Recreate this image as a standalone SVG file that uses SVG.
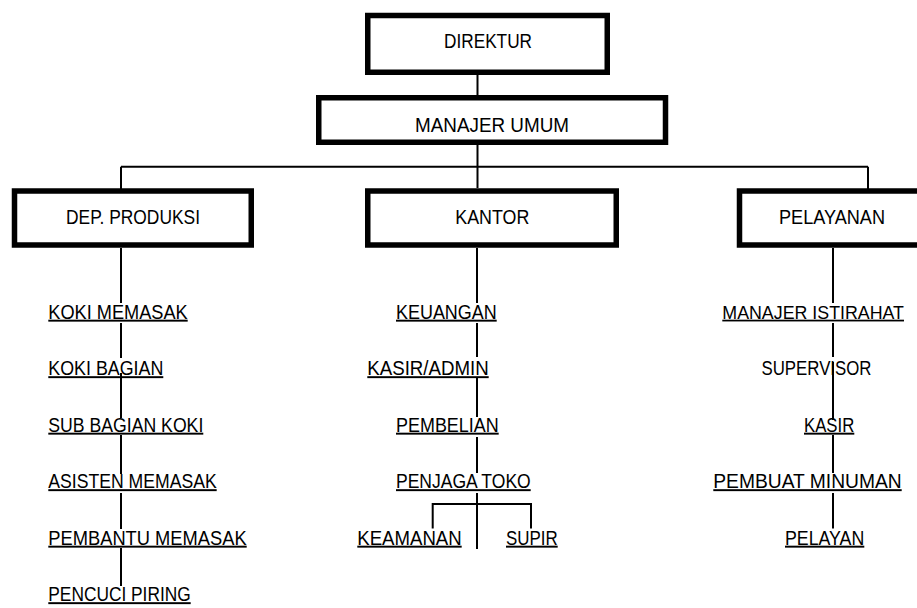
<svg xmlns="http://www.w3.org/2000/svg" width="917" height="608" viewBox="0 0 917 608">
<style>
  .box { fill: #fff; stroke: #000; stroke-width: 5.5; }
  .con { stroke: #000; stroke-width: 2; fill: none; }
  text { font-family: "Liberation Sans", Arial, sans-serif; font-size: 19.5px; fill: #000; }
  .c { text-anchor: middle; }
  .u { text-decoration: underline; }
</style>
<rect width="917" height="608" fill="#fff"/>
<g id="connectors">
  <line class="con" x1="477.5" y1="75" x2="477.5" y2="95"/>
  <line class="con" x1="477.5" y1="145" x2="477.5" y2="188"/>
  <line class="con" x1="121" y1="166.7" x2="868" y2="166.7"/>
  <line class="con" x1="121" y1="166.7" x2="121" y2="189"/>
  <line class="con" x1="868" y1="166.7" x2="868" y2="189"/>
  <!-- left column -->
  <line class="con" x1="121" y1="248" x2="121" y2="303"/>
  <line class="con" x1="121" y1="323" x2="121" y2="358"/>
  <line class="con" x1="121" y1="373" x2="121" y2="418"/>
  <line class="con" x1="121" y1="435" x2="121" y2="474"/>
  <line class="con" x1="121" y1="493" x2="121" y2="529"/>
  <line class="con" x1="121" y1="548" x2="121" y2="586"/>
  <!-- center column -->
  <line class="con" x1="477" y1="248" x2="477" y2="303"/>
  <line class="con" x1="477" y1="323" x2="477" y2="357"/>
  <line class="con" x1="477" y1="377" x2="477" y2="417"/>
  <line class="con" x1="477" y1="437" x2="477" y2="473"/>
  <line class="con" x1="477" y1="493" x2="477" y2="549"/>
  <polyline class="con" points="432.7,528.5 432.7,504 531,504 531,528.5"/>
  <!-- right column -->
  <line class="con" x1="833" y1="248" x2="833" y2="303"/>
  <line class="con" x1="833" y1="323" x2="833" y2="357"/>
  <line class="con" x1="833" y1="362" x2="833" y2="420"/>
  <line class="con" x1="833" y1="435" x2="833" y2="473"/>
  <line class="con" x1="833" y1="493" x2="833" y2="528.5"/>
</g>
<g id="direktur">
  <rect class="box" x="367.75" y="15.5" width="239.5" height="56.75"/>
  <text class="c" x="488" y="48.3" textLength="88" lengthAdjust="spacingAndGlyphs">DIREKTUR</text>
</g>
<g id="manajer-umum">
  <rect class="box" x="318.75" y="97.75" width="346.75" height="44.5"/>
  <text class="c" x="492" y="131.7" textLength="154" lengthAdjust="spacingAndGlyphs">MANAJER UMUM</text>
</g>
<g id="dep-produksi">
  <rect class="box" x="14.5" y="191" width="236.75" height="54"/>
  <text class="c" x="133" y="224.3" textLength="134" lengthAdjust="spacingAndGlyphs">DEP. PRODUKSI</text>
</g>
<g id="kantor">
  <rect class="box" x="367.75" y="191" width="248.5" height="54"/>
  <text class="c" x="492.3" y="224.3" textLength="74" lengthAdjust="spacingAndGlyphs">KANTOR</text>
</g>
<g id="pelayanan">
  <rect class="box" x="739.5" y="191" width="200" height="54"/>
  <text class="c" x="832" y="224.3" textLength="106" lengthAdjust="spacingAndGlyphs">PELAYANAN</text>
</g>
<g id="koki-memasak"><text class="u" x="48.3" y="318.7" textLength="139.4" lengthAdjust="spacingAndGlyphs">KOKI MEMASAK</text></g>
<g id="koki-bagian"><text class="u" x="48.3" y="375.2" textLength="115" lengthAdjust="spacingAndGlyphs">KOKI BAGIAN</text></g>
<g id="sub-bagian-koki"><text class="u" x="48.3" y="431.7" textLength="155" lengthAdjust="spacingAndGlyphs">SUB BAGIAN KOKI</text></g>
<g id="asisten-memasak"><text class="u" x="48.3" y="488.2" textLength="168.4" lengthAdjust="spacingAndGlyphs">ASISTEN MEMASAK</text></g>
<g id="pembantu-memasak"><text class="u" x="48.3" y="544.7" textLength="198.4" lengthAdjust="spacingAndGlyphs">PEMBANTU MEMASAK</text></g>
<g id="pencuci-piring"><text class="u" x="48.3" y="601.2" textLength="142.4" lengthAdjust="spacingAndGlyphs">PENCUCI PIRING</text></g>
<g id="keuangan"><text class="u" x="396" y="318.7" textLength="100.7" lengthAdjust="spacingAndGlyphs">KEUANGAN</text></g>
<g id="kasir-admin"><text class="u" x="367.3" y="375.2" textLength="121.4" lengthAdjust="spacingAndGlyphs">KASIR/ADMIN</text></g>
<g id="pembelian"><text class="u" x="396" y="431.7" textLength="102.7" lengthAdjust="spacingAndGlyphs">PEMBELIAN</text></g>
<g id="penjaga-toko"><text class="u" x="396" y="488.2" textLength="134.7" lengthAdjust="spacingAndGlyphs">PENJAGA TOKO</text></g>
<g id="keamanan"><text class="u" x="357.3" y="544.7" textLength="104.4" lengthAdjust="spacingAndGlyphs">KEAMANAN</text></g>
<g id="supir"><text class="u" x="506" y="544.7" textLength="51.7" lengthAdjust="spacingAndGlyphs">SUPIR</text></g>
<g id="manajer-istirahat"><text class="u" x="722.3" y="318.7" style="font-size:17.5px" textLength="181.7" lengthAdjust="spacingAndGlyphs">MANAJER ISTIRAHAT</text></g>
<g id="supervisor"><text x="761.5" y="375.2" textLength="110" lengthAdjust="spacingAndGlyphs">SUPERVISOR</text></g>
<g id="kasir"><text class="u" x="804" y="431.7" textLength="50.3" lengthAdjust="spacingAndGlyphs">KASIR</text></g>
<g id="pembuat-minuman"><text class="u" x="713.3" y="488.2" textLength="188.4" lengthAdjust="spacingAndGlyphs">PEMBUAT MINUMAN</text></g>
<g id="pelayan"><text class="u" x="785" y="544.7" textLength="79.3" lengthAdjust="spacingAndGlyphs">PELAYAN</text></g>
</svg>
